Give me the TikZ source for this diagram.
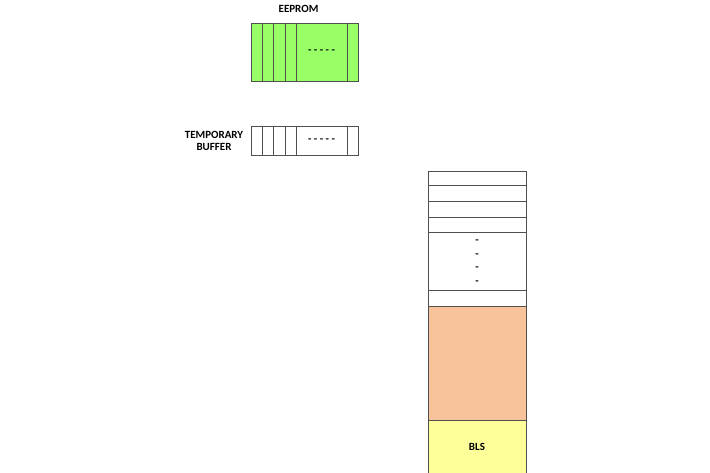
\documentclass[tikz,border=0pt]{standalone}
\usepackage{fontspec}
\setmainfont{Carlito}
\definecolor{eegreen}{RGB}{153,255,102}
\definecolor{peach}{RGB}{248,195,155}
\definecolor{lyellow}{RGB}{255,255,153}
\definecolor{edge}{RGB}{80,80,80}
\begin{document}
\begin{tikzpicture}[x=1pt,y=-1pt,
  cell/.style={draw=edge,line width=0.7pt,inner sep=0pt,outer sep=0pt,anchor=north west},
  lbl/.style={font=\fontsize{11}{12.5}\selectfont\bfseries,inner sep=0pt,align=center},
  dots/.style={font=\fontsize{11}{12}\selectfont\bfseries,inner sep=0pt}]
\useasboundingbox (0,0) rectangle (710,473);
\clip (0,0) rectangle (710,473);
% EEPROM
\node[lbl] (eelbl) at (298.5,9) {EEPROM};
\node[cell,fill=eegreen,minimum width=106.6pt,minimum height=58.4pt] (ee) at (251.7,23.3) {};
\foreach \x/\n in {262.7/a,273.7/b,285/c,296/d,347.3/e}{
  \draw[draw=edge,line width=0.7pt] (\x,23.3) coordinate (ee\n t) -- (\x,81.7) coordinate (ee\n b);
}
\node[dots] (eedots) at (321.5,52) {- - - - -};
% Temporary buffer
\node[lbl] (tblbl) at (214,141) {TEMPORARY\\BUFFER};
\node[cell,minimum width=106.6pt,minimum height=29pt] (tb) at (251.7,126.7) {};
\foreach \x/\n in {262.7/a,273.7/b,285/c,296/d,347.3/e}{
  \draw[draw=edge,line width=0.7pt] (\x,126.7) coordinate (tb\n t) -- (\x,155.7) coordinate (tb\n b);
}
\node[dots] (tbdots) at (321.5,141) {- - - - -};
% Memory column
\node[cell,minimum width=98.4pt,minimum height=14.7pt] (r1) at (428.3,171) {};
\node[cell,minimum width=98.4pt,minimum height=15.6pt] (r2) at (428.3,185.7) {};
\node[cell,minimum width=98.4pt,minimum height=15.7pt] (r3) at (428.3,201.3) {};
\node[cell,minimum width=98.4pt,minimum height=15.3pt] (r4) at (428.3,217) {};
\node[cell,minimum width=98.4pt,minimum height=58pt] (r5) at (428.3,232.3) {};
\node[cell,minimum width=98.4pt,minimum height=15.7pt] (r6) at (428.3,290.3) {};
\node[cell,fill=peach,minimum width=98.4pt,minimum height=114pt] (r7) at (428.3,306) {};
\node[cell,fill=lyellow,minimum width=98.4pt,minimum height=60pt] (r8) at (428.3,420) {};
\foreach \y/\n in {241.3/a,255.3/b,269/c,282.7/d}{
  \node[dots] (vd\n) at (477,\y) {-};
}
\node[lbl] (bls) at (477,446.7) {BLS};
\end{tikzpicture}
\end{document}
